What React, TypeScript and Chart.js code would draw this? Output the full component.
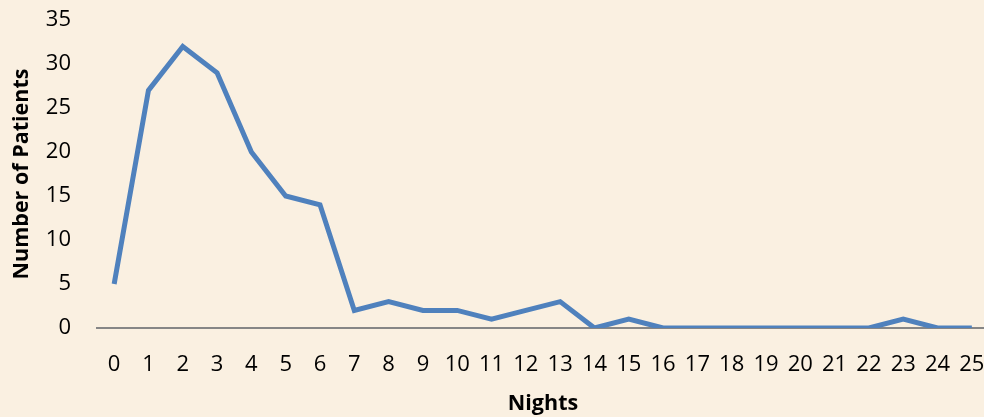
import React, { useEffect, useRef } from "react";
import { Chart, registerables } from "chart.js";

Chart.register(...registerables);

const nights = ["0","1","2","3","4","5","6","7","8","9","10","11","12","13","14","15","16","17","18","19","20","21","22","23","24","25"];
const patients = [5, 27, 32, 29, 20, 15, 14, 2, 3, 2, 2, 1, 2, 3, 0, 1, 0, 0, 0, 0, 0, 0, 0, 1, 0, 0];
const xTitle = "Nights";
const yTitle = "Number of Patients";

const BG = "#FAF0E1";

export default function App() {
  const ref = useRef<HTMLCanvasElement | null>(null);
  useEffect(() => {
    document.body.style.margin = "0";
    document.body.style.background = BG;
    const ctx = ref.current!;
    const chart = new Chart(ctx, {
      type: "line",
      data: {
        labels: nights,
        datasets: [
          {
            data: patients,
            borderColor: "#4F81BD",
            borderWidth: 5,
            pointRadius: 0,
            tension: 0,
            borderJoinStyle: "miter",
            fill: false,
          },
        ],
      },
      options: {
        animation: false,
        responsive: false,
        maintainAspectRatio: false,
        layout: { padding: { top: 20, left: 0, right: 0, bottom: 0 } },
        plugins: { legend: { display: false }, tooltip: { enabled: false } },
        scales: {
          x: {
            offset: true,
            grid: { display: false, drawTicks: false },
            border: { display: true, color: "#868686", width: 2 },
            ticks: { color: "#000", font: { family: "Open Sans", size: 22 }, padding: 24, maxRotation: 0, autoSkip: false },
            title: { display: true, text: xTitle, color: "#000", font: { family: "Open Sans", size: 21.5, weight: "bold" }, padding: { top: 0, bottom: 0 } },
            afterFit: (s: any) => { s.height = 89; s.paddingLeft = 0; s.paddingRight = 0; },
          },
          y: {
            min: 0,
            max: 35,
            ticks: { stepSize: 5, color: "#000", font: { family: "Open Sans", size: 22 }, padding: 26 },
            grid: { display: false, drawTicks: false },
            border: { display: false },
            title: { display: true, text: yTitle, color: "#000", font: { family: "Open Sans", size: 21.5, weight: "bold" }, padding: { top: 9, bottom: 0 } },
            afterFit: (s: any) => { s.width = 97; s.paddingTop = 0; s.paddingBottom = 0; },
          },
        },
      },
      plugins: [
        {
          id: "bg",
          beforeDraw: (c: any) => {
            const g = c.ctx;
            g.save();
            g.fillStyle = BG;
            g.fillRect(0, 0, c.width, c.height);
            g.restore();
          },
        },
      ],
    });
    return () => chart.destroy();
  }, []);
  return (
    <div style={{ position: "absolute", left: 0, top: 0, width: 984, height: 417, overflow: "hidden", background: BG }}>
      <canvas ref={ref} width={989} height={417} style={{ width: 989, height: 417 }} />
    </div>
  );
}
